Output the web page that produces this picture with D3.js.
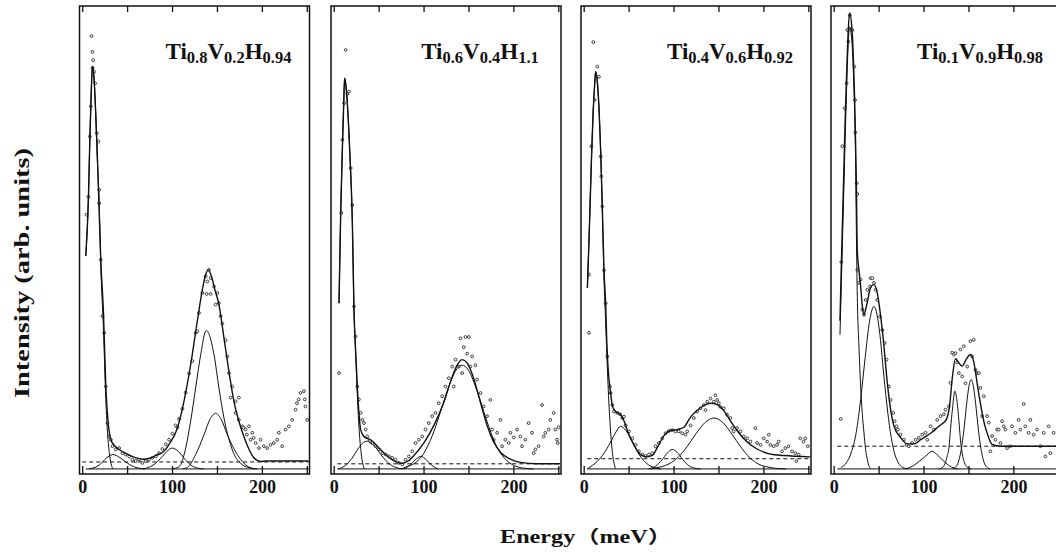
<!DOCTYPE html>
<html lang="en">
<head>
<meta charset="utf-8">
<script src="https://d3js.org/d3.v7.min.js"></script>
<style>
  body { margin: 0; background: #fff; }
  text { font-family: "Liberation Serif", "Times New Roman", serif; font-weight: bold; fill: #111; }
</style>
</head>
<body>
<div id="my_dataviz"></div>
<script>

// ---- data (energy in meV, intensity in arb. units) ----
var xTicks = [0, 50, 100, 150, 200, 250];
var xTickLabels = ["0", "", "100", "", "200", ""];

var titles = [
  ["Ti", "0.8", "V", "0.2", "H", "0.94"],
  ["Ti", "0.6", "V", "0.4", "H", "1.1"],
  ["Ti", "0.4", "V", "0.6", "H", "0.92"],
  ["Ti", "0.1", "V", "0.9", "H", "0.98"]
];

// flat background level (dashed line) of each panel
var background = [1.5, 1.1, 2.2, 4.9];

// total fits
var fit1 = [[4,46],[7,59],[8.5,71],[10,81],[11.5,87],[13.3,84],[15,77],[17,67],[18.5,58],[20.7,45],[23.7,33.7],[26.3,17.8],[29.3,9.2],[32,6.3],[36,5],[41,4.2],[50,3.2],[60,2.4],[67,2.1],[75,2.3],[82,2.9],[91,3.8],[96.7,5.3],[105.9,8.8],[113.3,14.6],[120.7,22.5],[128.1,31.9],[134,39],[137.5,42],[140.4,43],[144,41.5],[148,38.5],[152.2,35.5],[157.8,28.3],[163.3,21.1],[168.9,14.6],[174.4,10.3],[181.9,6],[191.1,2.4],[198.5,1.6],[205,1.7],[252,1.7]];
var fit2 = [[5.9,35.8],[7.8,55.3],[9.5,68],[11,78],[12.2,84.4],[13.5,83],[15.5,78],[18,68],[20.7,53.8],[22.6,34.4],[24.5,25],[26.3,17.8],[28.1,12.1],[30,8.5],[33.7,7],[37,6.6],[41.1,6.3],[48.5,4.9],[55,3.6],[59.6,2.8],[65,2],[70.7,1.4],[76,1.2],[81.9,1.6],[89.3,2.9],[100.4,5.6],[111.5,9.4],[122.6,14.4],[130,18.8],[137.4,22.4],[143,23.6],[148.5,22.9],[155.9,19.5],[163.3,14.4],[170.7,9.4],[178.1,5.8],[185.6,3.6],[196.7,2.1],[207.8,1.4],[226,1.1],[252,1.1]];
var fit3 = [[4.1,39.1],[6,50],[8.5,66],[10.5,77],[12.2,83],[13.3,85.8],[15,84],[17,78],[19,68],[20.7,56.7],[22.6,42.9],[24.4,35.8],[25.6,28],[27,22.2],[28.1,19.5],[30,16.4],[31.9,13.6],[35.6,12.4],[41.1,11.7],[44.8,10.4],[48.5,8.3],[55.9,5.2],[63.3,3.1],[70.7,2.6],[76.3,2.9],[81.9,4.6],[89.3,7.2],[96.7,8.3],[104,8.5],[111.5,9],[118.9,11.2],[126.3,12.6],[133.7,13.7],[141.1,14.2],[148.5,13.9],[155.9,12.6],[163.3,10.4],[170.7,8.3],[181.9,5.8],[193,4.3],[207.8,3.2],[222.6,2.9],[252,2.6]];
var fit4 = [[7,32],[8.5,44],[10,55],[11.5,66],[13,77],[14.5,86],[16,94],[17.8,98.5],[20.7,94],[22.2,87],[23.3,80],[24.2,72],[25.2,62],[26.3,47],[28.1,43],[30,39.4],[31.9,35.1],[33.7,33.3],[35.6,34.5],[37.4,36],[41.1,39.2],[44.8,39.8],[48.5,38],[52.2,33.1],[55.9,26.6],[59.6,18.7],[63.3,12.9],[67,9.3],[74.4,6.8],[81.9,5.4],[89.3,5.4],[96.7,6.3],[104,7.2],[108.5,7.8],[114,8.7],[119.6,9.6],[125.2,10.6],[128.9,13.5],[132.2,20],[135.6,23.8],[139,23],[143,22.2],[147,23.5],[152.2,24.7],[156,23],[159.6,18.6],[162.5,15],[165.2,12.1],[168,9.5],[170.7,7.8],[176.3,5.3],[185.6,4.9],[252,4.9]];

// elastic (quasi-elastic) peaks
var elastic1 = [[4,46],[7,59],[8.5,71],[10,81],[11.5,87],[13.3,84],[15,77],[17,66],[19,57],[20.7,44],[23.7,30],[26.3,15],[28.5,7],[30.5,3],[32.5,0.8],[34.5,0]];
var elastic2 = [[5.9,35.8],[7.8,55.3],[9.5,68],[11,78],[12.2,84.4],[13.5,83],[15.5,78],[18,68],[20.7,53.8],[22.6,34],[24.5,25],[26.3,16],[28.5,8],[30.5,3.5],[32.5,1],[34,0]];
var elastic3 = [[4.1,39.1],[6,50],[8.5,66],[10.5,77],[12.2,83],[13.3,85.8],[15,84],[17,78],[19,68],[20.7,56],[22.6,41],[24.4,32],[26.3,22],[28.1,14],[30,8],[32,3.5],[34,1],[36,0]];
var elastic4 = [[7,29],[8.5,40],[10,51],[11.5,62],[13,73],[14.5,83],[16,91],[17.8,95.5],[20.7,91],[22.2,84],[23.3,77],[24.2,69],[25.2,52],[26.3,37],[28,27],[30,17.8],[31.8,12],[33.7,7.8],[35.5,4.2],[37.4,2],[39,0.8],[41,0]];

// fitted gaussian components
var comps1 = [
  [[8,0],[15,0.4],[20,1],[25,2],[30,2.8],[34,3.1],[38,2.9],[43,2.3],[50,1.3],[57,0.5],[65,0.1],[70,0]],
  [[68,0],[76,0.5],[84,1.6],[92,3.3],[100,4.5],[107,3.8],[114,2.2],[121,0.8],[128,0.2],[135,0]],
  [[100,0],[108,0.5],[115.2,4.5],[120.7,10.3],[126.3,17.5],[131.9,24.7],[138.1,29.9],[146.7,24.7],[152.2,17.5],[157.8,11],[165.2,5.2],[170,2.8],[176.3,1.2],[187,0.2],[195,0]],
  [[112,0],[117,0.3],[126.3,3.1],[135.6,7.4],[142,10.6],[148.5,12],[155,10.6],[161.5,7.4],[172.6,3.1],[183.7,0.6],[192,0]]
];
var comps2 = [
  [[5,0],[12,0.6],[20,2.2],[28,4.6],[33,5.7],[37,6],[41,5.6],[45,5],[53,3],[60,1.4],[68,0.4],[76,0]],
  [[78,0],[85,0.8],[91,2],[97,2.7],[103,2],[109,0.8],[116,0]],
  [[76,0],[80,0.4],[90,1.2],[100,3.3],[110,7.3],[120,13],[130,18.8],[137,21.6],[143,22.4],[150,21.3],[160,16.6],[170,10.6],[180,5.4],[190,2.3],[200,0.8],[210,0.2],[222,0]]
];
var comps3 = [
  [[4,0],[10,0.8],[15,1.6],[22,3.2],[30,5.8],[36,8],[41,9.2],[47,8.3],[55,5.5],[62,3],[70,1.2],[78,0.3],[86,0]],
  [[72,0],[80,0.6],[87,1.9],[93,3.4],[98.5,4.2],[104,3.6],[110,2.1],[117,0.7],[125,0.1],[130,0]],
  [[75,0],[80,0.2],[95,1.1],[105,2.5],[115,4.8],[125,7.6],[135,10],[144.8,11],[155,10],[165,7.5],[175,4.7],[185,2.4],[195,1],[205,0.4],[215,0.1],[225,0]]
];
var comps4 = [
  [[8,0.3],[14,1.3],[20,3.8],[25,7.8],[30,15],[35,24],[40,32],[44.8,35.1],[49,32.5],[52,28],[55.9,20],[60,12.5],[64,6.8],[68,3.2],[72,1.3],[77,0.3],[82,0]],
  [[80,0],[88,0.6],[95,1.6],[102,2.7],[109.6,3.8],[117,2.7],[124,1.4],[131,0.4],[138,0]],
  [[117,0],[121,0.3],[124,1.2],[126.3,2.7],[128.5,5],[130,8.5],[132.5,13.5],[134.8,16.8],[137,15],[139.3,10.5],[141,6.5],[143,3.4],[145.5,1.4],[148.5,0.4],[153,0]],
  [[133,0],[135,0.3],[138,1.1],[141,3.2],[143,5.5],[145,8.6],[148,14.1],[150.5,17.8],[153,19.3],[155.5,17.8],[158,14.1],[161,8.6],[163,5.5],[165,3.2],[168,1.1],[171,0.3],[174,0]]
];

// measured points
var points1 = [[10.4,93.5],[11.4,90.1],[12.2,88.3],[11.4,86.6],[13.3,85.8],[14.4,83.3],[9.6,78.3],[8.5,71.8],[16.3,72.5],[18.1,70.7],[7,58.8],[18.9,60.3],[4.8,54.9],[18.9,57.4],[20.7,45.2],[22.6,33],[24.4,29.4],[26.3,17.8],[28.1,9.9],[29.9,7],[31.9,6.3],[33.7,4.9],[37.4,4.2],[41.1,4.5],[44.8,3.4],[48.5,3.1],[52.2,2.7],[55.9,2],[59.6,1.7],[63.3,2],[67,1.3],[70.7,1.7],[74.4,2],[78.1,2.4],[81.9,2.7],[85.6,3.4],[89.3,4.3],[93,5.3],[96.7,6.3],[100.4,7.6],[104,9.4],[106,9],[107.8,10.8],[111.5,13],[115.2,16.5],[118.9,20.6],[122.6,23.3],[126.3,29.4],[128.1,29.7],[130,33.7],[133.7,38],[137.4,41.6],[139.3,40.5],[141.1,43],[143,41.2],[138.5,37.8],[143,37.8],[146.7,39.4],[148.5,35.5],[150.4,38],[152.2,35.8],[154.1,33],[156,31.4],[159.6,27.8],[161.5,24.3],[163.3,20.7],[165.2,15.4],[170.7,14.6],[174.4,15.4],[167,17.8],[170.7,12.1],[174.4,10.6],[178.1,9.2],[179.6,8.9],[181.9,8.5],[183.3,7.4],[185.6,9.2],[187.4,6.3],[189.3,7.8],[190.7,6.7],[193,5.6],[196.7,4.5],[198.5,6.3],[202.2,4.9],[205.9,4.5],[209.6,5.2],[213.3,5.6],[217,6.3],[218.9,7.8],[222.6,4.9],[226.3,8.5],[230,9.2],[233.7,10.6],[237.4,12.8],[239,14.2],[241,15],[243,16.4],[246.7,16.8],[247.8,15],[248.5,13.5],[250.4,10.6]];
var points2 = [[13.3,90.5],[11.5,79],[17,81.5],[15.2,81],[9.6,71.1],[18.9,65],[5.9,20.7],[8.5,55.3],[20.7,57],[22.6,35.1],[24.4,28.6],[26.3,17.8],[28.1,15],[30,12.1],[31.9,10.6],[33.7,9.9],[35.6,8.5],[37.4,7],[40.4,6],[43,5.6],[46.7,4.9],[50.4,4.2],[54.1,3.4],[57.8,3.1],[61.5,2.7],[65.2,2.4],[68.9,2],[72.6,1.3],[76.3,1],[80,2],[83.7,2.7],[87.4,3.8],[91.1,5.6],[94.8,6.3],[98.5,7],[102.2,8.5],[105.9,9.9],[109.6,11.4],[113.3,12.1],[117,14.2],[120.7,15.7],[124.4,17.8],[128.1,19.6],[131.9,22.1],[133.7,17.8],[135.6,23.6],[139.3,22.1],[141.1,28.2],[144.8,26.3],[146.7,28.5],[150.4,28.5],[148.5,24.9],[143,20.7],[152.2,22.1],[154.1,24.3],[157.8,22.4],[159.6,19.3],[163.3,16.4],[167,13.5],[170.7,11.4],[174.4,14.9],[176.3,8.5],[178.1,6.3],[181.9,7.8],[185.6,10.6],[187.4,4.9],[191.1,6.3],[194.8,5.6],[196.7,7.8],[200.4,6.8],[204.1,8.5],[207.8,7],[209.6,4.9],[213.3,6.3],[217,9.9],[220.7,7.8],[222.6,3.4],[224.4,4.2],[228.1,4.9],[231.9,13.8],[233.7,7],[235.6,7.8],[239.3,8.5],[241.1,10.6],[244.8,12.1],[246.7,8.5],[248.5,6.3],[250.4,9],[249.4,5.6]];
var points3 = [[10.7,92.2],[15.2,86.9],[17,84.7],[12.2,79.7],[8.5,69.7],[18.9,67.5],[19.6,63.2],[5.9,42],[5.9,29.4],[20.7,56.7],[22.6,42.9],[24.4,35.8],[26.3,24.3],[29.3,17.8],[30,16.4],[31.9,13.8],[33.7,12.4],[37.4,12.1],[40.4,11.8],[43,11],[44.8,11.3],[46.7,9.4],[50.4,8.1],[54.1,6.6],[57.8,5.2],[61.5,3.8],[65.2,3.1],[68.9,2.8],[72.6,3.1],[76.3,3.4],[80,4.9],[83.7,5.6],[87.4,6.6],[91.1,7.7],[94.8,8.2],[98.5,8.4],[102.2,8.1],[105.9,8.1],[109.6,7.7],[113.3,7.4],[115.2,8.1],[118.9,9.4],[122.6,11],[126.3,12.4],[130,13.1],[133.7,13.8],[135.6,12.7],[137.4,14.5],[141.1,15.2],[144.8,14.5],[146.7,15.9],[148.5,14.9],[150.4,14.2],[152.2,13.4],[156,13.1],[159.6,11.7],[163.3,11],[165.2,8.8],[167,8.1],[170.7,8.8],[174.4,8.1],[178.1,7],[181.9,6.6],[185.6,5.9],[191.1,8.8],[193,5.6],[196.7,5.2],[200.4,6.6],[204.1,5.9],[206,7.4],[207.8,5.2],[211.5,4.9],[215.2,5.2],[217,5.9],[220.7,3.8],[224.4,4.5],[228.1,4.9],[231.9,3.8],[235.6,3.4],[236.7,1.7],[239.3,3.1],[241.1,6.6],[244.8,5.9],[246.7,6.6],[249.4,4.9]];
var points4 = [[17.8,98],[15.2,94.8],[20.7,94.8],[16.3,92.3],[14.4,83.3],[23,86.9],[12.2,77.9],[23.7,79.7],[24.1,72.7],[9.6,69.7],[25.6,61.7],[26.3,59.4],[8.5,44.7],[7.8,10.8],[26.3,43],[28.1,40.2],[30,40.9],[31.9,34.4],[33.7,33.3],[35.6,36.5],[37.4,38.7],[40.4,39.4],[41.1,41.2],[43,41.2],[44.8,40.2],[46.7,38.7],[48.5,36.5],[51.5,32.9],[54.1,30],[56.7,27.2],[58.9,23.6],[61.5,17.8],[63.3,14.9],[66.3,12.1],[67.8,10.3],[70,9.2],[71.5,8.5],[74.4,7.4],[78.1,6.3],[81,5.2],[83.7,4.9],[87.4,5.6],[91.1,6.3],[94.8,6.7],[98.5,7.4],[102.2,7.8],[104.1,6.3],[107.8,9.2],[111.5,8.5],[115.2,10.6],[118.9,11.4],[122.6,11.8],[124.4,12.8],[128.1,13.5],[130,18.6],[131.9,25.1],[133.7,24.7],[135.6,25],[137.4,23],[139.3,20.7],[141.1,25.8],[143,20],[144.8,26.5],[146.7,18.5],[148.5,22.1],[152.2,27.6],[154.1,24.3],[155.9,27.9],[157.8,21.4],[159.6,20.7],[161.5,20.7],[163.3,17.5],[165.2,11.4],[167,15.7],[170.7,11.4],[172.6,10],[174.4,3.8],[176.3,7.1],[180,6.3],[181.9,8.5],[183.7,8.5],[185.6,5.6],[187.4,10.3],[189.3,9.2],[191.1,8.5],[193,4.5],[196.7,4.9],[198.5,9.2],[202.2,7.8],[205.9,10.6],[207.8,8.5],[211.5,14],[213.3,9.2],[217,7.8],[218.9,10.6],[222.6,7.4],[226.3,8.5],[230,4.9],[233.7,7.8],[235.6,2.7],[239.3,9.2],[241.1,3.4],[244.8,7.8],[250,6.5]];

var fits = [fit1, fit2, fit3, fit4];
var elastics = [elastic1, elastic2, elastic3, elastic4];
var comps = [comps1, comps2, comps3, comps4];
var points = [points1, points2, points3, points4];

// ---- layout ----
var W = 1056, H = 554;
var panelLeft = [79.5, 331, 581, 831];
var panelW = 230, plotTop = 6, plotBottom = 474;

var svg = d3.select("#my_dataviz")
  .append("svg")
    .attr("width", W)
    .attr("height", H);

var y = d3.scaleLinear().domain([-1.1, 100]).range([plotBottom, plotTop]);

panelLeft.forEach(function(left, i) {
  var x = d3.scaleLinear().domain([-3, 253]).range([left, left + panelW]);
  var g = svg.append("g");

  g.append("clipPath").attr("id", "clip" + i)
    .append("rect")
      .attr("x", left).attr("y", plotTop)
      .attr("width", panelW).attr("height", plotBottom - plotTop);

  var plot = g.append("g").attr("clip-path", "url(#clip" + i + ")");

  var line = d3.line()
    .x(function(d) { return x(d[0]); })
    .y(function(d) { return y(d[1]); })
    .curve(d3.curveMonotoneX);

  // zero line and background
  plot.append("path")
    .datum([[4, 0], [252, 0]])
    .attr("d", line)
    .attr("fill", "none").attr("stroke", "#111").attr("stroke-width", 1);
  plot.append("path")
    .datum([[i == 0 ? 0 : 4, background[i]], [252, background[i]]])
    .attr("d", line)
    .attr("fill", "none").attr("stroke", "#111").attr("stroke-width", 1)
    .attr("stroke-dasharray", "4,3");

  // measured points
  plot.append("g")
    .selectAll("circle")
    .data(points[i])
    .enter()
    .append("circle")
      .attr("cx", function(d) { return x(d[0]); })
      .attr("cy", function(d) { return y(d[1]); })
      .attr("r", 1.4)
      .attr("fill", "#fff")
      .attr("stroke", "#111")
      .attr("stroke-width", 0.8);

  // components
  comps[i].forEach(function(c) {
    plot.append("path").datum(c).attr("d", line)
      .attr("fill", "none").attr("stroke", "#111").attr("stroke-width", 1);
  });
  plot.append("path").datum(elastics[i]).attr("d", line)
    .attr("fill", "none").attr("stroke", "#111").attr("stroke-width", 1);

  // total fit
  plot.append("path").datum(fits[i]).attr("d", line)
    .attr("fill", "none").attr("stroke", "#111").attr("stroke-width", 1.4);

  // frame
  g.append("rect")
    .attr("x", left).attr("y", plotTop)
    .attr("width", panelW).attr("height", plotBottom - plotTop)
    .attr("fill", "none").attr("stroke", "#111").attr("stroke-width", 1.5);

  // ticks: inward on top and bottom
  var bottomAxis = g.append("g")
    .attr("transform", "translate(0," + plotBottom + ")")
    .call(d3.axisBottom(x).tickValues(xTicks).tickSize(-8).tickPadding(6)
      .tickFormat(function(d, k) { return xTickLabels[k]; }));
  bottomAxis.select(".domain").remove();
  bottomAxis.selectAll(".tick line").attr("stroke", "#111").attr("stroke-width", 1.3);
  bottomAxis.selectAll(".tick text")
    .attr("fill", "#111")
    .style("font-family", "'Liberation Serif', serif")
    .style("font-weight", "bold")
    .style("font-size", "18px");

  var topAxis = g.append("g")
    .attr("transform", "translate(0," + plotTop + ")")
    .call(d3.axisTop(x).tickValues(xTicks).tickSize(-6).tickFormat(""));
  topAxis.select(".domain").remove();
  topAxis.selectAll(".tick line").attr("stroke", "#111").attr("stroke-width", 1.3);

  // panel title with subscripts
  var t = g.append("text")
    .attr("x", left + 149)
    .attr("y", 59)
    .attr("text-anchor", "middle")
    .style("font-size", "23px");
  titles[i].forEach(function(s, k) {
    var sub = k % 2 == 1;
    t.append("tspan")
      .attr("dy", k == 0 ? 0 : (sub ? 3.5 : -3.5))
      .style("font-size", sub ? "16.5px" : "23px")
      .text(s);
  });
});

// Y axis label
svg.append("text")
  .attr("transform", "translate(29,273) rotate(-90)")
  .attr("text-anchor", "middle")
  .attr("textLength", 250)
  .attr("lengthAdjust", "spacingAndGlyphs")
  .style("font-size", "20px")
  .text("Intensity (arb. units)");

// X axis label
svg.append("text")
  .attr("x", 500)
  .attr("y", 543)
  .attr("textLength", 172)
  .attr("lengthAdjust", "spacingAndGlyphs")
  .style("font-family", "'Liberation Serif', 'Noto Sans CJK SC', serif")
  .style("font-size", "18px")
  .text("Energy（meV）");

</script>
</body>
</html>
